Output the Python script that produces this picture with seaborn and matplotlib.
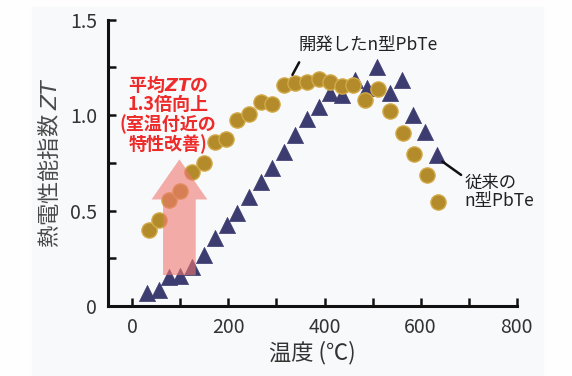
import matplotlib
matplotlib.use("Agg")
import matplotlib.pyplot as plt
from matplotlib.patches import FancyArrow, Rectangle
import numpy as np
import pandas as pd
import seaborn as sns

# Temperature (°C) and ZT values for the two n-type PbTe materials
temp_new = [35, 55, 76, 99, 125, 149, 173, 196, 218, 242, 267, 291, 315,
            339, 364, 388, 412, 436, 460, 485, 512, 537, 563, 587, 613, 637]
zt_new = [0.40, 0.45, 0.555, 0.60, 0.70, 0.75, 0.86, 0.873, 0.974, 1.005,
          1.07, 1.058, 1.157, 1.169, 1.175, 1.187, 1.175, 1.152, 1.157,
          1.08, 1.135, 1.023, 0.907, 0.796, 0.686, 0.546]

temp_old = [31, 55, 76, 100, 125, 149, 173, 197, 218, 242, 267, 291, 315,
            339, 364, 388, 412, 436, 464, 488, 509, 537, 561, 585, 609, 634]
zt_old = [0.066, 0.084, 0.154, 0.157, 0.206, 0.267, 0.354, 0.424, 0.485,
          0.572, 0.651, 0.721, 0.808, 0.895, 0.982, 1.044, 1.113, 1.105,
          1.183, 1.14, 1.253, 1.113, 1.183, 1.0, 0.913, 0.79]

x_ticks = [0, 100, 200, 300, 400, 500, 600, 700, 800]
x_ticklabels = ["0", "", "200", "", "400", "", "600", "", "800"]
y_ticks = [0, 0.25, 0.5, 0.75, 1.0, 1.25, 1.5]
y_ticklabels = ["0", "", "0.5", "", "1.0", "", "1.5"]

df_new = pd.DataFrame({"temp": temp_new, "zt": zt_new})
df_old = pd.DataFrame({"temp": temp_old, "zt": zt_old})

sns.set_theme(style="ticks")
plt.rcParams["font.family"] = ["Noto Sans CJK JP", "DejaVu Sans"]
plt.rcParams["mathtext.fontset"] = "custom"
plt.rcParams["mathtext.it"] = "DejaVu Sans:italic"
plt.rcParams["mathtext.bf"] = "DejaVu Sans:bold"
plt.rcParams["mathtext.bfit"] = "DejaVu Sans:italic:bold"

W, H = 572, 376
fig = plt.figure(figsize=(W / 100, H / 100), dpi=100)
fig.patch.set_facecolor("#fefefe")
fig.patches.append(Rectangle((32 / W, 0), (543 - 32) / W, (376 - 7) / H,
                             transform=fig.transFigure, color="#f8f9fa",
                             zorder=-10))

ax = fig.add_axes([108.3 / W, 70 / H, (516.7 - 108.3) / W, (306 - 19.6) / H])
ax.set_facecolor("none")

sns.scatterplot(data=df_old, x="temp", y="zt", ax=ax, marker="^", s=135,
                color="#3d3c70", edgecolor="#3d3c70", linewidth=0.5,
                zorder=3, clip_on=False)
sns.scatterplot(data=df_new, x="temp", y="zt", ax=ax, marker="o", s=120,
                color="#b48b2b", edgecolor="#d2aa4a", linewidth=1.0,
                zorder=4, clip_on=False)

ax.set_xlim(-50, 800)
ax.set_ylim(0, 1.5)
ax.set_xticks(x_ticks)
ax.set_xticklabels(x_ticklabels)
ax.set_yticks(y_ticks)
ax.set_yticklabels(y_ticklabels)

sns.despine(ax=ax)
for side in ("left", "bottom"):
    ax.spines[side].set_linewidth(2.2)
    ax.spines[side].set_color("#111111")
ax.tick_params(direction="in", length=6, width=1.8, color="#111111",
               labelsize=14, labelcolor="#333333", pad=8)

ax.set_xlabel("温度 (℃)", fontsize=16, color="#333333", labelpad=2)
ax.set_ylabel("熱電性能指数 $ZT$", fontsize=16, color="#4a4a4a", labelpad=6)

# Improvement arrow near room temperature
ax.add_patch(FancyArrow(98, 0.162, 0, 0.606, width=68, head_width=116,
                        head_length=0.21, length_includes_head=True,
                        color="#ef7770", alpha=0.6, lw=0, zorder=5))

ax.text(75, 1.006, "平均$\\mathbfit{ZT}$の\n1.3倍向上\n(室温付近の\n特性改善)",
        ha="center", va="center", multialignment="center",
        fontsize=13, fontweight="bold", color="#ee2b2b",
        linespacing=1.02, zorder=6)

# Series labels with leader lines
ax.annotate("", xy=(330.5, 1.198), xytext=(350, 1.289),
            arrowprops=dict(arrowstyle="-", lw=1.8, color="#111111"),
            zorder=6)
ax.text(345, 1.367, "開発したn型PbTe", ha="left", va="center",
        fontsize=12.5, color="#222222", zorder=6)

ax.annotate("", xy=(640.6, 0.765), xytext=(689, 0.678),
            arrowprops=dict(arrowstyle="-", lw=1.8, color="#111111"),
            zorder=6)
ax.text(692, 0.597, "従来の\nn型PbTe", ha="left", va="center",
        fontsize=12.5, color="#222222", linespacing=1.0, zorder=6)

fig.savefig("out.png", dpi=100, facecolor=fig.get_facecolor())
